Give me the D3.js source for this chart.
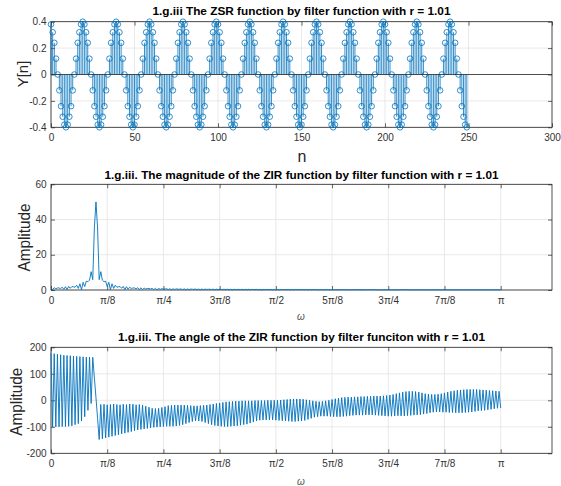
<!DOCTYPE html>
<meta charset="utf-8">
<html>
<style>
  body { margin: 0; background: #fff; }
  .chart text { font-family: "Liberation Sans", Arial, sans-serif; fill: #262626; }
  .chart .tick text { font-size: 10px; fill: #333; }
  .chart .title { font-family: "Liberation Sans", Arial, sans-serif; font-weight: bold; font-size: 10px; fill: #000; }
</style>
<script src="https://cdn.jsdelivr.net/npm/d3@7"></script>
<body>
  <svg class="chart"></svg>
</body>
<script>
  var width = 561;
  var height = 486;
  var left = 51, right = 552;
  var blue = "#0072BD";

  // 1.g.iii ZSR, stem values for n = 0..249
  var zsr = [
    0.38, 0.32, 0.24, 0.12, 0, -0.12, -0.24, -0.32, -0.38, -0.4,
    -0.38, -0.32, -0.24, -0.12, 0, 0.12, 0.24, 0.32, 0.38, 0.4,
    0.38, 0.32, 0.24, 0.12, 0, -0.12, -0.24, -0.32, -0.38, -0.4,
    -0.38, -0.32, -0.24, -0.12, 0, 0.12, 0.24, 0.32, 0.38, 0.4,
    0.38, 0.32, 0.24, 0.12, 0, -0.12, -0.24, -0.32, -0.38, -0.4,
    -0.38, -0.32, -0.24, -0.12, 0, 0.12, 0.24, 0.32, 0.38, 0.4,
    0.38, 0.32, 0.24, 0.12, 0, -0.12, -0.24, -0.32, -0.38, -0.4,
    -0.38, -0.32, -0.24, -0.12, 0, 0.12, 0.24, 0.32, 0.38, 0.4,
    0.38, 0.32, 0.24, 0.12, 0, -0.12, -0.24, -0.32, -0.38, -0.4,
    -0.38, -0.32, -0.24, -0.12, 0, 0.12, 0.24, 0.32, 0.38, 0.4,
    0.38, 0.32, 0.24, 0.12, 0, -0.12, -0.24, -0.32, -0.38, -0.4,
    -0.38, -0.32, -0.24, -0.12, 0, 0.12, 0.24, 0.32, 0.38, 0.4,
    0.38, 0.32, 0.24, 0.12, 0, -0.12, -0.24, -0.32, -0.38, -0.4,
    -0.38, -0.32, -0.24, -0.12, 0, 0.12, 0.24, 0.32, 0.38, 0.4,
    0.38, 0.32, 0.24, 0.12, 0, -0.12, -0.24, -0.32, -0.38, -0.4,
    -0.38, -0.32, -0.24, -0.12, 0, 0.12, 0.24, 0.32, 0.38, 0.4,
    0.38, 0.32, 0.24, 0.12, 0, -0.12, -0.24, -0.32, -0.38, -0.4,
    -0.38, -0.32, -0.24, -0.12, 0, 0.12, 0.24, 0.32, 0.38, 0.4,
    0.38, 0.32, 0.24, 0.12, 0, -0.12, -0.24, -0.32, -0.38, -0.4,
    -0.38, -0.32, -0.24, -0.12, 0, 0.12, 0.24, 0.32, 0.38, 0.4,
    0.38, 0.32, 0.24, 0.12, 0, -0.12, -0.24, -0.32, -0.38, -0.4,
    -0.38, -0.32, -0.24, -0.12, 0, 0.12, 0.24, 0.32, 0.38, 0.4,
    0.38, 0.32, 0.24, 0.12, 0, -0.12, -0.24, -0.32, -0.38, -0.4,
    -0.38, -0.32, -0.24, -0.12, 0, 0.12, 0.24, 0.32, 0.38, 0.4,
    0.38, 0.32, 0.24, 0.12, 0, -0.12, -0.24, -0.32, -0.38, -0.4
  ];
  var zsrXTicks = [0, 50, 100, 150, 200, 250, 300];
  var zsrYTicks = [-0.4, -0.2, 0, 0.2, 0.4];
  var zsrYLabels = ["-0.4", "-0.2", "0", "0.2", "0.4"];

  // ZIR spectrum, 281 frequency samples from 0 to pi
  var nFreq = 281;
  var magZir = [
    1.27, 0.22, 1.29, 0.69, 1.16, 1.15, 0.86, 1.57, 0.40, 1.87,
    0.22, 2.02, 0.97, 1.94, 1.80, 1.58, 2.68, 0.90, 3.54, 0.22,
    4.35, 1.95, 5.0, 4.7, 5.6, 10.4, 5.9, 35.2, 50, 35.2,
    5.9, 10.4, 5.6, 4.7, 5.0, 1.95, 4.35, 0.22, 3.54, 0.90,
    2.68, 1.58, 1.80, 1.94, 0.97, 2.02, 0.22, 1.87, 0.40, 1.57,
    0.86, 1.15, 1.16, 0.69, 1.29, 0.22, 1.27,
    0.21, 1.12, 0.56, 0.87, 0.81, 0.56, 0.94, 0.22, 0.96, 0.10, 0.88, 0.39, 0.72, 0.61,
    0.49, 0.74, 0.22, 0.78, 0.05, 0.73, 0.28, 0.61, 0.47, 0.44, 0.59, 0.22, 0.65, 0.0,
    0.63, 0.21, 0.55, 0.39, 0.41, 0.52, 0.23, 0.58, 0.03, 0.58, 0.16, 0.51, 0.32, 0.39,
    0.45, 0.23, 0.51, 0.06, 0.52, 0.11, 0.47, 0.27, 0.36, 0.38, 0.23, 0.44, 0.08, 0.46,
    0.07, 0.42, 0.21, 0.34, 0.33, 0.23, 0.40, 0.10, 0.43, 0.05, 0.41, 0.18, 0.34, 0.29,
    0.22, 0.34, 0.10, 0.37, 0.02, 0.36, 0.14, 0.31, 0.24, 0.23, 0.32, 0.12, 0.36, 0.00,
    0.33, 0.11, 0.29, 0.21, 0.22, 0.28, 0.13, 0.32, 0.02, 0.33, 0.09, 0.30, 0.19, 0.23,
    0.27, 0.14, 0.32, 0.04, 0.33, 0.07, 0.30, 0.18, 0.25, 0.26, 0.16, 0.31, 0.06, 0.33,
    0.05, 0.26, 0.14, 0.22, 0.21, 0.15, 0.26, 0.06, 0.28, 0.03, 0.27, 0.12, 0.23, 0.20,
    0.16, 0.25, 0.08, 0.28, 0.02, 0.27, 0.11, 0.24, 0.19, 0.17, 0.24, 0.09, 0.28, 0.00,
    0.25, 0.08, 0.22, 0.16, 0.17, 0.21, 0.10, 0.24, 0.01, 0.25, 0.07, 0.23, 0.14, 0.18,
    0.20, 0.11, 0.24, 0.03, 0.25, 0.06, 0.23, 0.13, 0.19, 0.20, 0.12, 0.24, 0.04, 0.25,
    0.04, 0.22, 0.11, 0.18, 0.17, 0.12, 0.21, 0.05, 0.23, 0.03, 0.22, 0.10, 0.19, 0.16,
    0.13, 0.21, 0.06, 0.23, 0.01, 0.22, 0.09, 0.19, 0.15, 0.14, 0.20, 0.08, 0.23, 0.00,
    0.21, 0.07, 0.18, 0.13, 0.14, 0.18, 0.08, 0.20, 0.01, 0.21, 0.06, 0.19, 0.12, 0.15,
    0.17, 0.09, 0.20, 0.02, 0.21, 0.05, 0.19, 0.11, 0.16, 0.16, 0.10, 0.20, 0.04, 0.21
  ];
  var angZir = [
    179, -101, 176, -100, 174, -100, 172, -99, 170, -99,
    169, -98, 168, -96, 167, -92, 166, -88, 165, -78,
    164, -62, 163, -38, 163, -12, 162, 85, 10, -68,
    -148, -16, -145, -15, -142, -17, -139, -16, -136, -14,
    -133, -16, -130, -17, -127, -15, -124, -16, -121, -14,
    -118, -15, -115, -17, -112, -16, -110, -18, -108, -22,
    -106, -26, -104, -30, -102, -31, -101, -30, -100, -27,
    -99, -24, -98, -20, -98, -19, -98, -18, -97, -18,
    -95, -18, -92, -18, -88, -19, -84, -20, -80, -21,
    -78, -21, -78, -20, -80, -19, -84, -18, -88, -16,
    -92, -14, -95, -12, -97, -10, -98, -8, -99, -6,
    -99, -5, -98, -4, -97, -3, -96, -3, -94, -2,
    -92, -2, -90, -2, -86, -2, -82, -1, -78, -1,
    -75, -1, -74, -1, -74, 0, -74, 0, -74, 0,
    -75, 0, -76, 1, -77, 2, -78, 3, -79, 4,
    -80, 5, -80, 5, -79, 5, -78, 4, -76, 2,
    -72, 0, -68, -2, -64, -4, -62, -5, -60, -4,
    -60, -2, -60, 0, -61, 3, -62, 6, -62, 8,
    -62, 10, -61, 11, -60, 12, -58, 12, -57, 13,
    -56, 13, -56, 14, -56, 14, -55, 15, -55, 15,
    -55, 16, -56, 16, -57, 16, -58, 17, -59, 18,
    -60, 20, -60, 22, -59, 25, -58, 28, -59, 31,
    -59, 33, -58, 34, -57, 34, -56, 33, -55, 31,
    -54, 28, -52, 25, -50, 23, -47, 22, -45, 22,
    -44, 23, -44, 25, -45, 28, -45, 31, -46, 34,
    -46, 36, -47, 38, -47, 39, -47, 40, -46, 41,
    -45, 41, -44, 41, -42, 41, -40, 40, -39, 39,
    -38, 38, -36, 37, -34, 36, -32, 35, -30, 34,
    -29
  ];
  var wTicks = [0, 1, 2, 3, 4, 5, 6, 7, 8]; // multiples of pi/8
  var wLabels = ["0", "π/8", "π/4", "3π/8", "π/2", "5π/8", "3π/4", "7π/8", "π"];
  var magYTicks = [0, 20, 40, 60];
  var angYTicks = [-200, -100, 0, 100, 200];

  var titles = [
    "1.g.iii The ZSR function by filter function with r = 1.01",
    "1.g.iii. The magnitude of the ZIR function by filter function with r = 1.01",
    "1.g.iii. The angle of the ZIR function by filter funciton with r = 1.01"
  ];

  var svg = d3.select(".chart")
    .attr("width", width)
    .attr("height", height);

  // one matlab-like axes: grid, inward ticks on all sides, box
  function makeAxes(o) {
    var g = svg.append("g");
    var x = d3.scaleLinear().domain(o.xDomain).range([left, right]);
    var y = d3.scaleLinear().domain(o.yDomain).range([o.bottom, o.top]);

    g.selectAll(".gx").data(o.xTicks).enter().append("line")
      .attr("x1", function(d) { return x(d); })
      .attr("x2", function(d) { return x(d); })
      .attr("y1", o.top).attr("y2", o.bottom)
      .attr("stroke", "#e3e3e3").attr("stroke-width", 0.8);
    g.selectAll(".gy").data(o.yTicks).enter().append("line")
      .attr("y1", function(d) { return y(d); })
      .attr("y2", function(d) { return y(d); })
      .attr("x1", left).attr("x2", right)
      .attr("stroke", "#e3e3e3").attr("stroke-width", 0.8);

    var ax = [
      [d3.axisBottom(x).tickFormat(function(d, i) { return o.xLabels[i]; }), "translate(0," + o.bottom + ")"],
      [d3.axisTop(x).tickFormat(""), "translate(0," + o.top + ")"],
      [d3.axisLeft(y).tickFormat(function(d, i) { return o.yLabels[i]; }), "translate(" + left + ",0)"],
      [d3.axisRight(y).tickFormat(""), "translate(" + right + ",0)"]
    ];
    ax.forEach(function(a, k) {
      var axis = a[0].tickValues(k < 2 ? o.xTicks : o.yTicks)
        .tickSizeInner(-4).tickSizeOuter(0)
        .tickPadding(k < 2 ? 7 : 4.5);
      var ga = g.append("g").attr("transform", a[1]).call(axis);
      ga.select(".domain").remove();
      ga.selectAll("line").attr("stroke", "#262626").attr("stroke-width", 0.7);
      ga.attr("font-family", null).attr("font-size", null);
    });

    g.append("rect")
      .attr("x", left).attr("y", o.top)
      .attr("width", right - left).attr("height", o.bottom - o.top)
      .attr("fill", "none").attr("stroke", "#262626").attr("stroke-width", 0.8);

    svg.append("text").attr("class", "title")
      .attr("x", (left + right) / 2).attr("y", o.titleY)
      .attr("text-anchor", "middle")
      .attr("textLength", o.titleLen).attr("lengthAdjust", "spacingAndGlyphs")
      .text(o.title);

    return { g: g, x: x, y: y };
  }

  // ---- subplot 1: stem plot
  var a1 = makeAxes({
    top: 21.7, bottom: 127.3, xDomain: [0, 300], yDomain: [-0.4, 0.4],
    xTicks: zsrXTicks, xLabels: zsrXTicks.map(String),
    yTicks: zsrYTicks, yLabels: zsrYLabels,
    title: titles[0], titleY: 15, titleLen: 298
  });
  var stems = a1.g.selectAll(".stem").data(zsr).enter().append("g");
  stems.append("line")
    .attr("x1", function(d, i) { return a1.x(i); })
    .attr("x2", function(d, i) { return a1.x(i); })
    .attr("y1", a1.y(0))
    .attr("y2", function(d) { return a1.y(d); })
    .attr("stroke", blue).attr("stroke-width", 0.8);
  a1.g.append("line")
    .attr("x1", left).attr("x2", right)
    .attr("y1", a1.y(0)).attr("y2", a1.y(0))
    .attr("stroke", "#262626").attr("stroke-width", 0.8);
  stems.append("circle")
    .attr("cx", function(d, i) { return a1.x(i); })
    .attr("cy", function(d) { return a1.y(d); })
    .attr("r", 2.8)
    .attr("fill", "none").attr("stroke", blue).attr("stroke-width", 0.8);

  svg.append("text").attr("x", 302).attr("y", 162)
    .attr("text-anchor", "middle").attr("font-size", 16).text("n");
  svg.append("text").attr("transform", "translate(27.5,74) rotate(-90)")
    .attr("text-anchor", "middle").attr("font-size", 15).text("Y[n]");

  // frequency helpers
  var wOf = function(i) { return i * Math.PI / (nFreq - 1); };
  var wTickVals = wTicks.map(function(k) { return k * Math.PI / 8; });

  // ---- subplot 2: magnitude
  var a2 = makeAxes({
    top: 184.3, bottom: 290, xDomain: [0, 3.5], yDomain: [0, 60],
    xTicks: wTickVals, xLabels: wLabels,
    yTicks: magYTicks, yLabels: magYTicks.map(String),
    title: titles[1], titleY: 178.5, titleLen: 394
  });
  a2.g.append("path").datum(magZir)
    .attr("fill", "none").attr("stroke", blue).attr("stroke-width", 0.9)
    .attr("d", d3.line()
      .x(function(d, i) { return a2.x(wOf(i)); })
      .y(function(d) { return a2.y(d); }));

  svg.append("text").attr("x", 301).attr("y", 320)
    .attr("text-anchor", "middle").attr("font-size", 10).attr("font-style", "italic")
    .attr("font-family", "DejaVu Serif").style("fill", "#555").text("ω");
  svg.append("text").attr("transform", "translate(30,237.5) rotate(-90)")
    .attr("text-anchor", "middle").attr("font-size", 16)
    .attr("textLength", 68).attr("lengthAdjust", "spacingAndGlyphs").text("Amplitude");

  // ---- subplot 3: angle
  var a3 = makeAxes({
    top: 347.3, bottom: 453.3, xDomain: [0, 3.5], yDomain: [-200, 200],
    xTicks: wTickVals, xLabels: wLabels,
    yTicks: angYTicks, yLabels: angYTicks.map(String),
    title: titles[2], titleY: 341, titleLen: 367
  });
  a3.g.append("path").datum(angZir)
    .attr("fill", "none").attr("stroke", blue).attr("stroke-width", 0.9)
    .attr("d", d3.line()
      .x(function(d, i) { return a3.x(wOf(i)); })
      .y(function(d) { return a3.y(d); }));

  svg.append("text").attr("x", 301).attr("y", 485)
    .attr("text-anchor", "middle").attr("font-size", 10).attr("font-style", "italic")
    .attr("font-family", "DejaVu Serif").style("fill", "#555").text("ω");
  svg.append("text").attr("transform", "translate(21.5,401.7) rotate(-90)")
    .attr("text-anchor", "middle").attr("font-size", 16)
    .attr("textLength", 68).attr("lengthAdjust", "spacingAndGlyphs").text("Amplitude");
</script>

</html>
